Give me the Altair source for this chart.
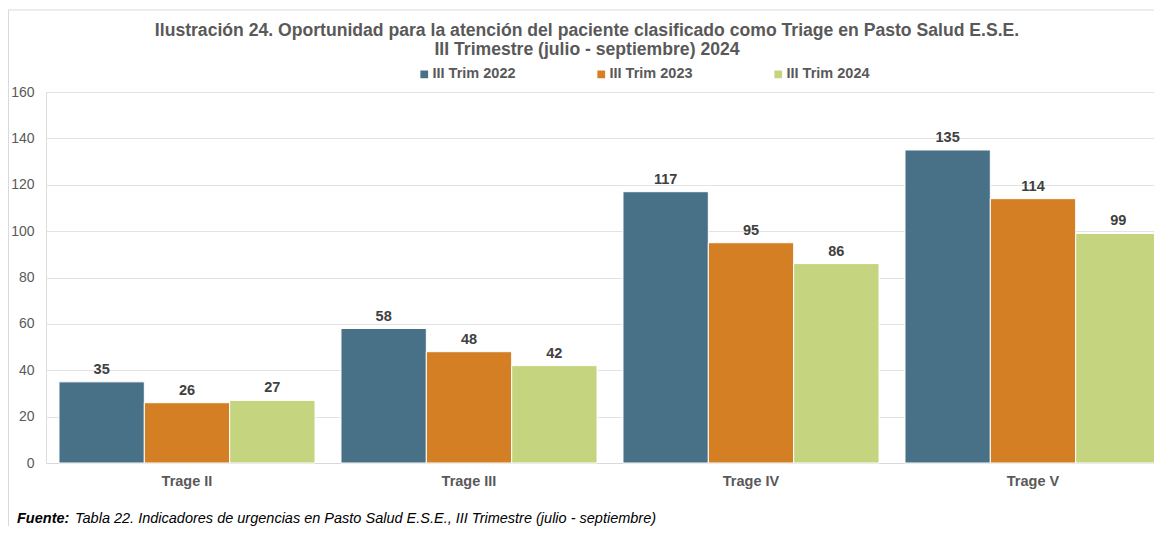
import altair as alt
import pandas as pd

categories = ["Trage II", "Trage III", "Trage IV", "Trage V"]
series = ["III Trim 2022", "III Trim 2023", "III Trim 2024"]
s2022 = [35, 58, 117, 135]
s2023 = [26, 48, 95, 114]
s2024 = [27, 42, 86, 99]
colors = ["#487187", "#D47F24", "#C5D47F"]
y_ticks = [0, 20, 40, 60, 80, 100, 120, 140, 160]
title_lines = [
    "Ilustración 24. Oportunidad para la atención del paciente clasificado como Triage en Pasto Salud E.S.E.",
    "III Trimestre (julio - septiembre) 2024",
]
source_bold = "Fuente:"
source_rest = "Tabla 22. Indicadores de urgencias en Pasto Salud E.S.E., III Trimestre (julio - septiembre)"

rows = []
for name, vals in zip(series, [s2022, s2023, s2024]):
    for c, v in zip(categories, vals):
        rows.append({"cat": c, "serie": name, "valor": v})
df = pd.DataFrame(rows)
one = pd.DataFrame({"k": [0]})

FONT = "Liberation Sans"
GREY = "#595959"
W = 1108
H = 371

x_enc = alt.X(
    "cat:N",
    sort=categories,
    scale=alt.Scale(range=[0, 1128], paddingInner=0.092, paddingOuter=0.046),
    axis=alt.Axis(
        title=None, labelAngle=0, labelFontSize=14.5, labelFontWeight="bold",
        labelColor=GREY, ticks=False, domainColor="#d9d9d9", labelPadding=11,
        labelFont=FONT,
    ),
)
y_enc = alt.Y(
    "valor:Q",
    scale=alt.Scale(domain=[0, 160], nice=False),
    axis=alt.Axis(
        title=None, values=y_ticks, labelFontSize=14, labelColor=GREY,
        domain=False, ticks=False, gridColor="#e3e3e3", labelPadding=12,
        labelFont=FONT,
    ),
)
xo = alt.XOffset("serie:N", sort=series, scale=alt.Scale(paddingInner=0))

bars = alt.Chart(df).mark_bar(stroke="white", strokeWidth=1).encode(
    x=x_enc,
    y=y_enc,
    xOffset=xo,
    color=alt.Color(
        "serie:N",
        sort=series,
        scale=alt.Scale(domain=series, range=colors),
        legend=alt.Legend(
            title=None, orient="none", legendX=371, legendY=-25,
            direction="horizontal", symbolType="square", symbolSize=60,
            symbolStrokeWidth=0, labelFontSize=14.5, labelFontWeight="bold",
            labelColor=GREY, labelFont=FONT, columnPadding=78, labelOffset=1,
        ),
    ),
)

labels = alt.Chart(df).mark_text(
    baseline="bottom", dy=-5, fontSize=14.5, fontWeight="bold", color="#404040", font=FONT
).encode(
    x=x_enc,
    y=y_enc,
    xOffset=xo,
    text=alt.Text("valor:Q"),
)

border_top = alt.Chart(one).mark_rule(color="#d9d9d9", strokeWidth=1).encode(
    x=alt.value(-38), x2=alt.value(W), y=alt.value(-82)
)
border_left = alt.Chart(one).mark_rule(color="#d9d9d9", strokeWidth=1).encode(
    x=alt.value(-37.5), y=alt.value(-82), y2=alt.value(434)
)

foot1 = alt.Chart(one).mark_text(
    align="left", baseline="alphabetic", fontSize=14.5, fontWeight="bold",
    fontStyle="italic", color="#000000", font=FONT
).encode(x=alt.value(-29), y=alt.value(431), text=alt.value(source_bold))
foot2 = alt.Chart(one).mark_text(
    align="left", baseline="alphabetic", fontSize=14.5,
    fontStyle="italic", color="#000000", font=FONT
).encode(x=alt.value(29), y=alt.value(431), text=alt.value(source_rest))

chart = alt.layer(border_top, border_left, bars, labels, foot1, foot2).properties(
    width=W,
    height=H,
    autosize=alt.AutoSizeParams(type="none"),
    padding={"left": 38, "top": 84, "right": 0, "bottom": 63},
    title=alt.TitleParams(
        text=title_lines, fontSize=17.6, fontWeight="bold", color=GREY,
        anchor="middle", dx=-13, offset=-49, lineHeight=19, font=FONT,
    ),
).configure_view(stroke=None).configure(background="white")

chart.save("out.html", embed_options={"renderer": "svg", "actions": False})
